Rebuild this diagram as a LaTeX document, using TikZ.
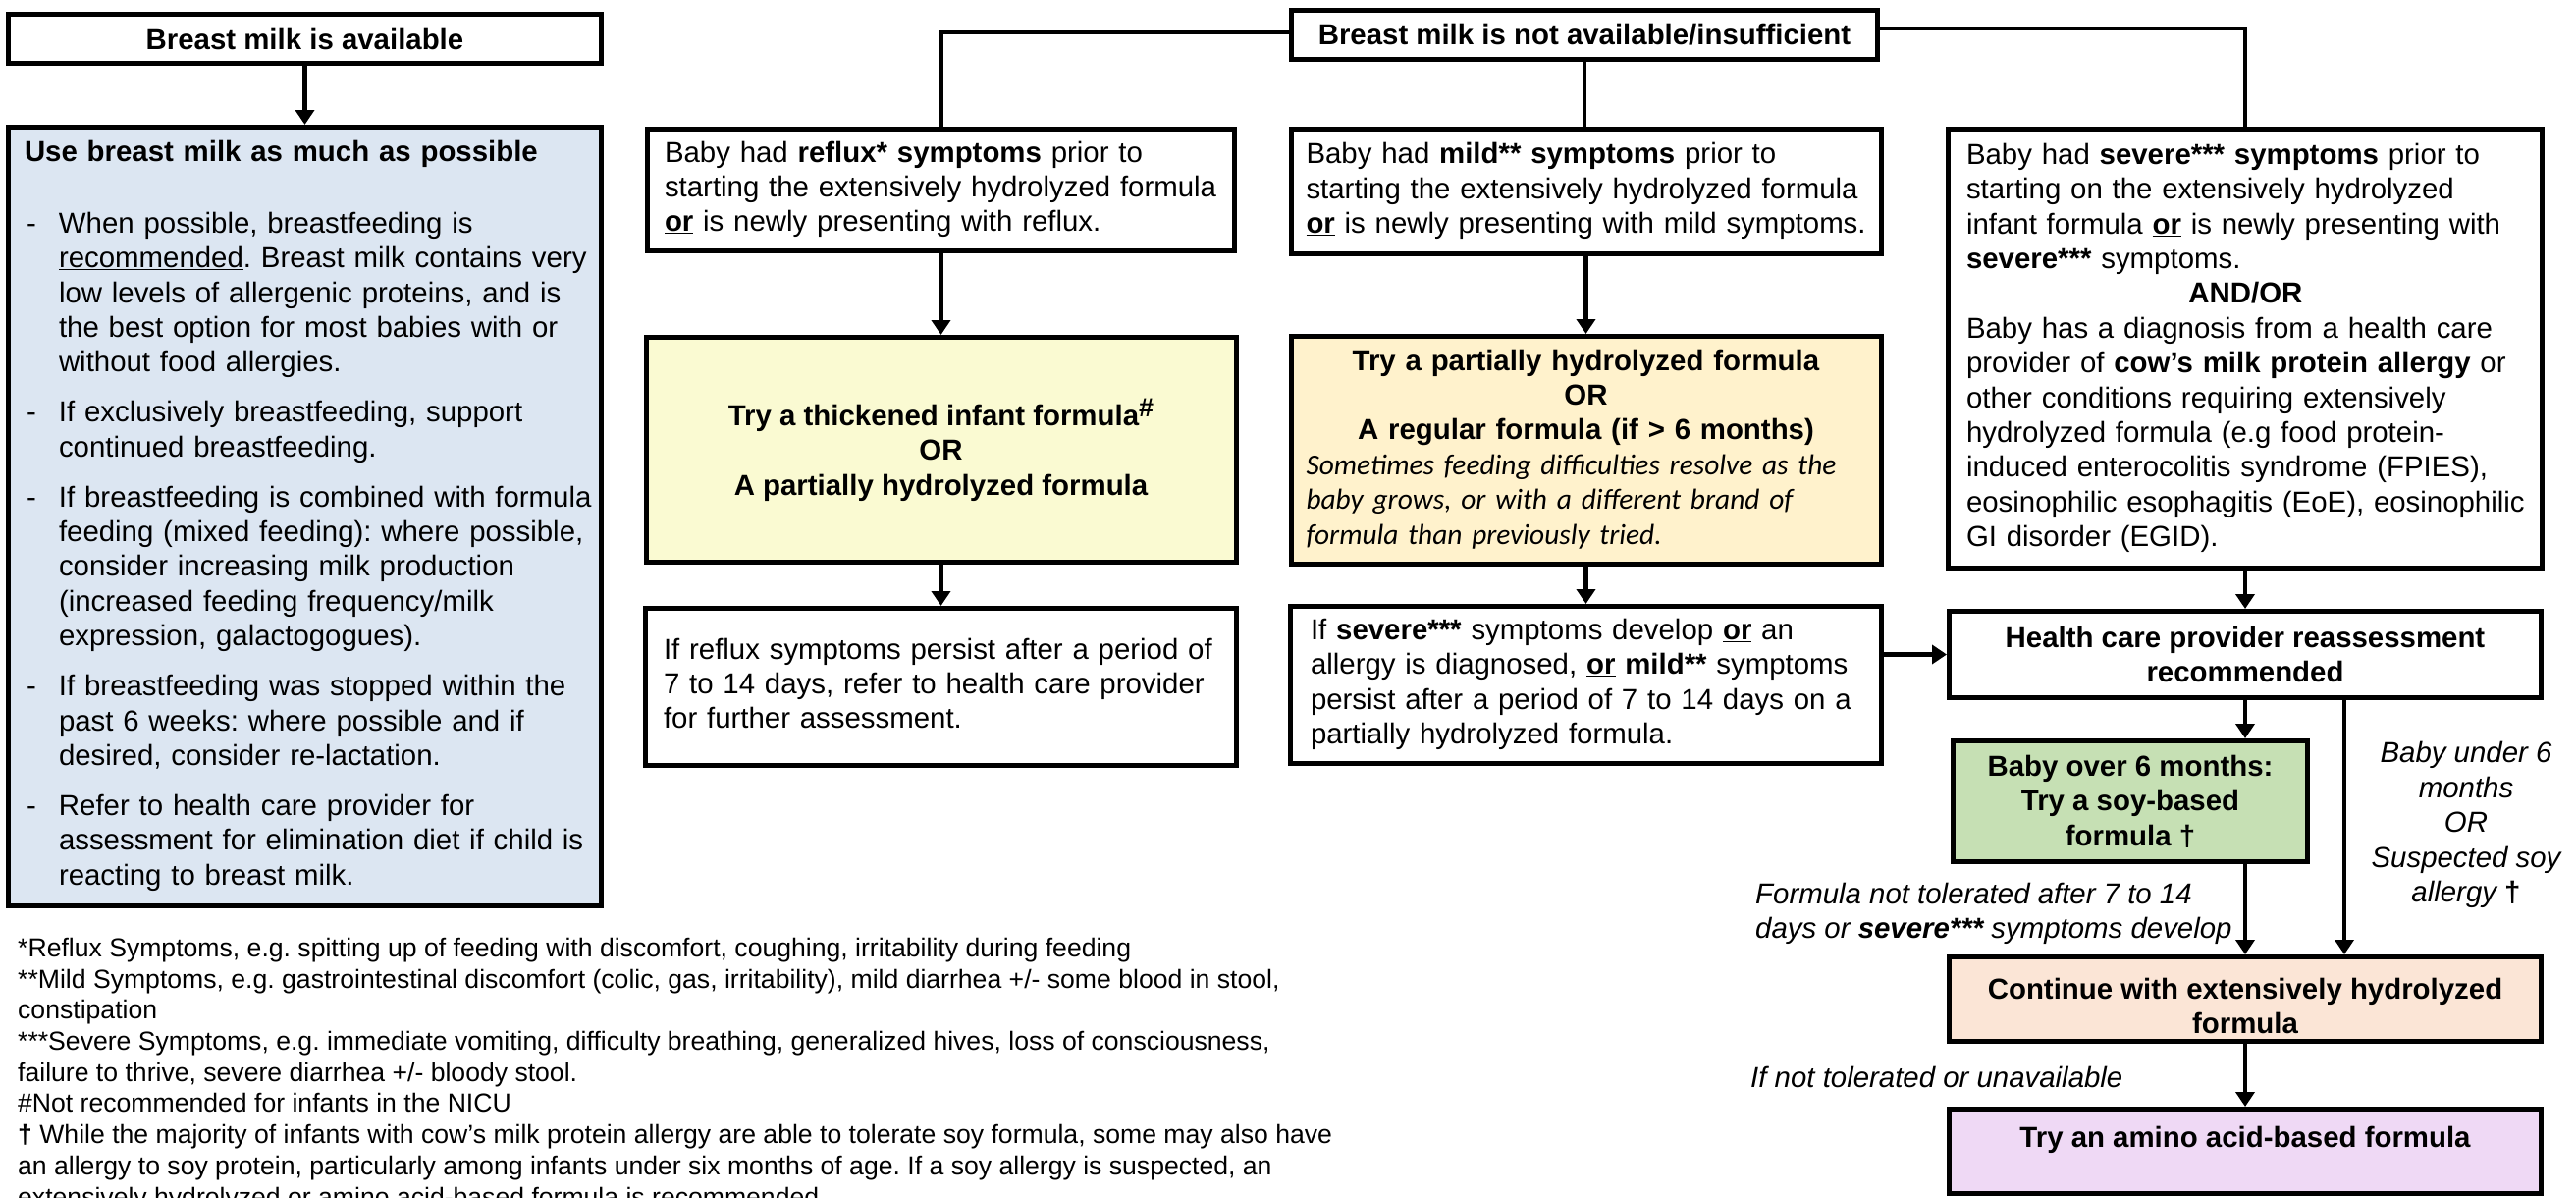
\documentclass[tikz,border=0pt]{standalone}
\usepackage{fontspec}
\setmainfont{Liberation Sans}
\newfontfamily\calibrifont{Carlito}
\usetikzlibrary{arrows.meta}
\definecolor{bluef}{HTML}{DCE6F2}
\definecolor{yellowf}{HTML}{FAFAD2}
\definecolor{creamf}{HTML}{FFF2CC}
\definecolor{greenf}{HTML}{C6E0B4}
\definecolor{peachf}{HTML}{FBE5D6}
\definecolor{lilacf}{HTML}{EFD9F5}
\newcommand{\bdash}{\makebox[35pt][l]{\hspace{2pt}-}}
\newcommand{\txtlines}[1]{\noindent\begin{tabular}{@{}l@{}}#1\end{tabular}}
\newcommand{\ulor}{\textbf{\underline{or}}}
\newcommand{\itl}[1]{\makebox[570pt][l]{\calibrifont\itshape #1}}
\frenchspacing
\begin{document}
\frenchspacing
\begin{tikzpicture}[x=1pt,y=-1pt,
  every node/.style={font=\fontsize{29.4}{35.4}\selectfont\frenchspacing, inner sep=0pt},
  bold/.style={font=\fontsize{29.4}{35.4}\selectfont\bfseries},
  ital/.style={font=\fontsize{29.4}{35.4}\selectfont\itshape},
  box/.style={draw, line width=5pt},
  conn/.style={line width=4.5pt},
  arr/.style={line width=4.5pt, -{Triangle[length=15pt,width=19pt]}}]
\useasboundingbox (0,0) rectangle (2624,1219);
\fill[white] (0,0) rectangle (2624,1219);

% left column
\node[box, bold, minimum width=604pt, minimum height=50pt] (A) at (310.5,39.5) {Breast milk is available};
\node[box, fill=bluef, minimum width=604pt, minimum height=793pt, text width=571pt, align=left] (B) at (310.5,526)
{\noindent\begin{tabular}{@{}l@{}l@{}}
\multicolumn{2}{@{}l@{}}{\textbf{Use breast milk as much as possible}}\\[37pt]
\bdash & When possible, breastfeeding is\\
 & \underline{recommended}. Breast milk contains very\\
 & low levels of allergenic proteins, and is\\
 & the best option for most babies with or\\
 & without food allergies.\\[15.5pt]
\bdash & If exclusively breastfeeding, support\\
 & continued breastfeeding.\\[15.5pt]
\bdash & If breastfeeding is combined with formula\\
 & feeding (mixed feeding): where possible,\\
 & consider increasing milk production\\
 & (increased feeding frequency/milk\\
 & expression, galactogogues).\\[15.5pt]
\bdash & If breastfeeding was stopped within the\\
 & past 6 weeks: where possible and if\\
 & desired, consider re-lactation.\\[15.5pt]
\bdash & Refer to health care provider for\\
 & assessment for elimination diet if child is\\
 & reacting to breast milk.
\end{tabular}};

% top centre
\node[box, bold, minimum width=597pt, minimum height=50pt] (C) at (1614,35.5) {Breast milk is not available/insufficient};

% reflux column
\node[box, minimum width=598pt, minimum height=124pt, text width=563pt, align=left] (D) at (958.5,193.5)
{\txtlines{Baby had \textbf{reflux* symptoms} prior to\\ starting the extensively hydrolyzed formula\\ \ulor{} is newly presenting with reflux.}};
\node[box, bold, fill=yellowf, minimum width=601pt, minimum height=229pt, align=center] (G) at (958.5,458)
{Try a thickened infant formula\raisebox{9pt}{\fontsize{27}{27}\selectfont\bfseries\#}\\ OR\\ A partially hydrolyzed formula};
\node[box, minimum width=602pt, minimum height=160pt, text width=565pt, align=left] (J) at (958.5,699.5)
{\txtlines{If reflux symptoms persist after a period of\\ 7 to 14 days, refer to health care provider\\ for further assessment.}};

% mild column
\node[box, minimum width=601pt, minimum height=127pt, text width=570pt, align=left] (E) at (1615.5,195)
{\txtlines{Baby had \textbf{mild** symptoms} prior to\\ starting the extensively hydrolyzed formula\\ \ulor{} is newly presenting with mild symptoms.}};
\node[box, fill=creamf, minimum width=601pt, minimum height=232pt, text width=570pt, align=left] (H) at (1615.5,458.5)
{\noindent\begin{tabular}{@{}c@{}}
\textbf{Try a partially hydrolyzed formula}\\
\textbf{OR}\\
\textbf{A regular formula (if > 6 months)}\\
\itl{Sometimes feeding difficulties resolve as the}\\
\itl{baby grows, or with a different brand of}\\
\itl{formula than previously tried.}
\end{tabular}};
\node[box, minimum width=602pt, minimum height=160pt, text width=561pt, align=left] (K) at (1615.5,697.5)
{\txtlines{If \textbf{severe***} symptoms develop \ulor{} an\\ allergy is diagnosed, \textbf{\underline{or} mild**} symptoms\\ persist after a period of 7 to 14 days on a\\ partially hydrolyzed formula.}};

% severe column
\node[box, minimum width=605pt, minimum height=447pt, text width=568pt, align=left] (F) at (2287,355)
{\noindent\begin{tabular}{@{}l@{}}
Baby had \textbf{severe*** symptoms} prior to\\
starting on the extensively hydrolyzed\\
infant formula \ulor{} is newly presenting with\\
\textbf{severe***} symptoms.\\
\multicolumn{1}{@{}c@{}}{\textbf{AND/OR}}\\
Baby has a diagnosis from a health care\\
provider of \textbf{cow’s milk protein allergy} or\\
other conditions requiring extensively\\
hydrolyzed formula (e.g food protein-\\
induced enterocolitis syndrome (FPIES),\\
eosinophilic esophagitis (EoE), eosinophilic\\
GI disorder (EGID).
\end{tabular}};
\node[box, bold, minimum width=603pt, minimum height=88pt, align=center] (L) at (2287,666.5)
{Health care provider reassessment\\ recommended};
\node[box, bold, fill=greenf, minimum width=361pt, minimum height=123pt, align=center] (M) at (2170,816)
{Baby over 6 months:\\ Try a soy-based\\ formula †};
\node[box, bold, fill=peachf, minimum width=603pt, minimum height=86pt, align=center, text height=71pt] (N) at (2287,1017.5)
{Continue with extensively hydrolyzed\\ formula};
\node[box, bold, fill=lilacf, minimum width=603pt, minimum height=86pt, align=center, text depth=30pt] (O) at (2287,1172.5)
{Try an amino acid-based formula};

% labels
\node[ital, anchor=west, align=left] (lf) at (1788,930.5)
{Formula not tolerated after 7 to 14\\ days or \textbf{severe***} symptoms develop};
\node[ital, align=center] (lu) at (2512,840)
{Baby under 6\\ months\\ OR\\ Suspected soy\\ allergy \textbf{\upshape †}};
\node[ital, anchor=west] (ln) at (1783,1097) {If not tolerated or unavailable};

% footnotes
\node[anchor=north west, font=\fontsize{26.6}{31.7}\selectfont\frenchspacing] (fn) at (18,952)
{\begin{tabular}{@{}l@{}}
{}*Reflux Symptoms, e.g. spitting up of feeding with discomfort, coughing, irritability during feeding\\
{}**Mild Symptoms, e.g. gastrointestinal discomfort (colic, gas, irritability), mild diarrhea +/- some blood in stool,\\
constipation\\
{}***Severe Symptoms, e.g. immediate vomiting, difficulty breathing, generalized hives, loss of consciousness,\\
failure to thrive, severe diarrhea +/- bloody stool.\\
\#Not recommended for infants in the NICU\\
\textbf{†} While the majority of infants with cow’s milk protein allergy are able to tolerate soy formula, some may also have\\
an allergy to soy protein, particularly among infants under six months of age. If a soy allergy is suspected, an\\
extensively hydrolyzed or amino acid-based formula is recommended.
\end{tabular}};

% connectors
\draw[arr] (A.south) -- (B.north);
\draw[conn] ([yshift=2.5pt]C.west) -| (D.north);
\draw[conn] ([yshift=6.5pt]C.east) -| (F.north);
\draw[conn] (C.south) -- (C.south |- E.north);
\draw[arr] (D.south) -- (G.north);
\draw[arr] (G.south) -- (J.north);
\draw[arr] (E.south) -- (H.north);
\draw[arr] (H.south) -- (K.north);
\draw[arr] (F.south) -- (L.north);
\draw[arr] (K.east |- L.west) -- (L.west);
\draw[arr] (L.south) -- (L.south |- M.north);
\draw[arr] (L.south |- M.south) -- (N.north);
\draw[arr] ([xshift=101pt]L.south) -- ([xshift=101pt]N.north);
\draw[arr] (N.south) -- (O.north);
\end{tikzpicture}
\end{document}
